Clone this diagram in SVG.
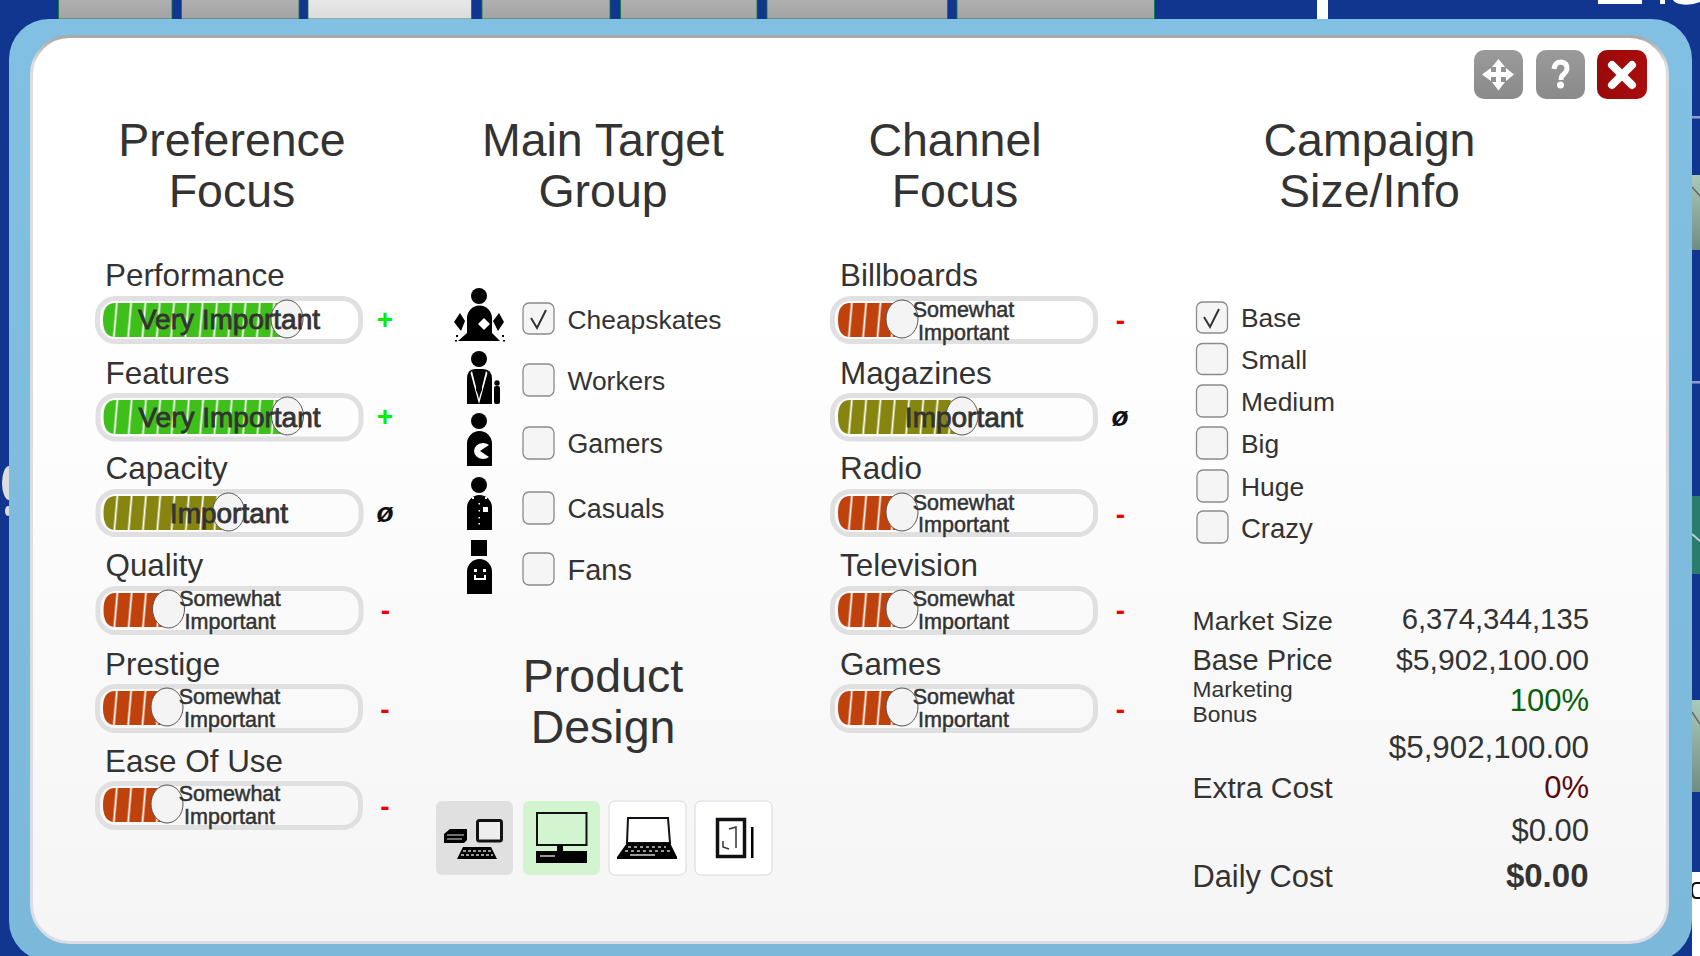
<svg xmlns="http://www.w3.org/2000/svg" width="1700" height="956" viewBox="0 0 1700 956">
<style>
text{font-family:"Liberation Sans",Arial,sans-serif;fill:#333}
.title{font-size:46.500px;text-anchor:middle}
.lab{font-size:31.400px}
.opt{font-size:26.400px}
.vi{font-size:28px;text-anchor:middle;stroke:#333;stroke-width:.8px}
.sw{font-size:21.500px;text-anchor:middle;stroke:#333;stroke-width:.5px}
.track{fill:none;stroke:#e0e0e0;stroke-width:5}
.knob{fill:#f4f4f4;stroke:#555;stroke-width:1}
.g{fill:#3fbf1a}.o{fill:#85850f}.r{fill:#bf410b}
.st{fill:url(#stripes)}
.sign{font-size:28px;font-weight:bold;text-anchor:middle}
text.plus{fill:#00f000}text.minus{fill:#f00000}
text.nil{font-size:28px;font-style:italic;fill:#111}
.box{fill:#f5f5f5;stroke:#8a8a8a;stroke-width:1.3}
.chk{fill:none;stroke:#333;stroke-width:2}
.val{text-anchor:end}
text.up{fill:#0a5f0a}text.down{fill:#5c0a0a}
.tab{fill:url(#tabG);stroke:#0a7a3a;stroke-width:.8}
.k{fill:#000}.w{fill:#fff}
.pb{stroke:#d8d8e0;stroke-width:1}
.btn{stroke:none}
</style>
<defs>
<pattern id="stripes" patternUnits="userSpaceOnUse" width="14.3" height="34" patternTransform="translate(108.15 320) skewX(-5)"><rect x="6.3" y="0" width="1.8" height="34" fill="#fff"/></pattern>
<linearGradient id="tabG" x1="0" y1="0" x2="0" y2="1"><stop offset="0" stop-color="#b0b0b0"/><stop offset="1" stop-color="#a4a4a4"/></linearGradient>
<linearGradient id="tabA" x1="0" y1="0" x2="0" y2="1"><stop offset="0" stop-color="#e8e8e8"/><stop offset="1" stop-color="#dcdcdc"/></linearGradient>
<linearGradient id="blue" x1="0" y1="0" x2="0" y2="1"><stop offset="0" stop-color="#82c0e3"/><stop offset="1" stop-color="#7bb8d9"/></linearGradient>
<linearGradient id="panel" x1="0" y1="0" x2="0" y2="1"><stop offset="0" stop-color="#fff"/><stop offset=".3" stop-color="#fff"/><stop offset="1" stop-color="#f5f5f5"/></linearGradient>
<linearGradient id="edge" x1="0" y1="0" x2="0" y2="1"><stop offset="0" stop-color="#a8a8a8"/><stop offset=".03" stop-color="#dcdcdc"/><stop offset="1" stop-color="#dcdce6"/></linearGradient>
<linearGradient id="gb" x1="0" y1="0" x2="0" y2="1"><stop offset="0" stop-color="#9a9a9a"/><stop offset="1" stop-color="#8a8a8a"/></linearGradient>
<linearGradient id="rb" x1="1" y1="0" x2="0" y2="0"><stop offset="0" stop-color="#ab0c0c"/><stop offset="1" stop-color="#990a0a"/></linearGradient>
<linearGradient id="sage" x1="0" y1="0" x2="0" y2="1"><stop offset="0" stop-color="#a9cabb"/><stop offset="1" stop-color="#6f8c80"/></linearGradient>
</defs>

<g id="background">
<rect width="1700" height="956" fill="#10368f"/>
<rect class="tab" x="58.5" y="-2" width="113.5" height="21"/>
<rect class="tab" x="181.5" y="-2" width="117.5" height="21"/>
<rect class="tab" x="308" y="-2" width="163.5" height="21" style="fill:url(#tabA)"/>
<rect class="tab" x="482" y="-2" width="128" height="21"/>
<rect class="tab" x="620.5" y="-2" width="136.5" height="21"/>
<rect class="tab" x="767" y="-2" width="180.5" height="21"/>
<rect class="tab" x="957" y="-2" width="197.5" height="21"/>
<rect x="1317" y="0" width="11" height="19" fill="#fff"/>
<path d="M1598 0H1642V4H1598ZM1660 0H1665V4H1660ZM1673 0H1700V2Q1690 6 1680 4Q1675 3 1673 0Z" fill="#fff"/>
<rect x="1692" y="116" width="8" height="2.5" fill="#8f9cd0"/>
<rect x="1692" y="175" width="8" height="75" fill="url(#sage)"/>
<path d="M1692 187L1700 196" stroke="#666" stroke-width="1.5"/>
<rect x="1692" y="381" width="8" height="2.5" fill="#8f9cd0"/>
<rect x="1692" y="496" width="8" height="78" fill="#2a7d6c"/>
<path d="M1692 534L1700 541" stroke="#bcd" stroke-width="2"/>
<rect x="1692" y="700" width="8" height="92" fill="url(#sage)"/>
<path d="M1692 712L1700 724" stroke="#666" stroke-width="1.5"/>
<rect x="1692" y="872" width="8" height="84" fill="#fff"/>
<path d="M1700 883H1696Q1692 883 1692 890Q1692 898 1696 898H1700" fill="none" stroke="#111" stroke-width="2"/>
<ellipse cx="9" cy="483" rx="7" ry="17" fill="#ddd"/>
<ellipse cx="8" cy="511" rx="3" ry="5" fill="#ddd"/>
<rect x="9" y="19" width="1683" height="942" rx="40" fill="url(#blue)"/>
<rect x="31.5" y="36.5" width="1636" height="906" rx="38" fill="url(#panel)" stroke="url(#edge)" stroke-width="3"/>
</g>

<g id="window-buttons">
<g id="btn-move"><rect class="btn" x="1474" y="50" width="49" height="49" rx="10" fill="url(#gb)"/>
<path class="w" d="M1498.5 59L1505 67H1501V72H1506V68L1514 74.500L1506 81V77H1501V82H1505L1498.5 90.500L1492 82H1496V77H1491V81L1482 74.500L1491 68V72H1496V67H1492Z"/></g>
<g id="btn-help"><rect class="btn" x="1536" y="50" width="49" height="49" rx="10" fill="url(#gb)"/>
<path d="M1554 69Q1555 62 1561 62Q1567.500 63 1567 69Q1566.500 72 1563 75Q1561 76 1561 80" fill="none" stroke="#fff" stroke-width="5"/><circle class="w" cx="1560.500" cy="85" r="3.500"/></g>
<g id="btn-close"><rect class="btn" x="1597" y="50" width="50" height="49" rx="10" fill="url(#rb)"/>
<path d="M1612 65L1632 85M1632 65L1612 85" stroke="#fff" stroke-width="8" stroke-linecap="round"/></g>
</g>

<g id="preference-focus">
<text class="title" x="232" y="156">Preference</text><text class="title" x="232" y="207">Focus</text>
<g id="pref-performance"><text class="lab" x="105" y="286">Performance</text>
<rect class="track" x="97.500" y="298.500" width="263" height="43" rx="18"/>
<path class="g" d="M115 303H287V337H115Q103 337 103 320Q103 303 115 303Z"/><path class="st" d="M115 303H287V337H115Q103 337 103 320Q103 303 115 303Z"/>
<ellipse class="knob" cx="287" cy="319" rx="16" ry="19"/><text class="vi" x="229" y="329">Very Important</text><text class="sign plus" x="385" y="329">+</text></g>
<g id="pref-features" transform="translate(.5 97)"><text class="lab" x="105" y="286.500">Features</text>
<rect class="track" x="97.500" y="298.500" width="263" height="43.500" rx="18"/>
<path class="g" d="M115 303H287V337H115Q103 337 103 320Q103 303 115 303Z"/><path class="st" d="M115 303H287V337H115Q103 337 103 320Q103 303 115 303Z"/>
<ellipse class="knob" cx="287" cy="319" rx="16" ry="19"/><text class="vi" x="229" y="330">Very Important</text><text class="sign plus" x="384.500" y="329">+</text></g>
<g id="pref-capacity" transform="translate(.5 193)"><text class="lab" x="105" y="286">Capacity</text>
<rect class="track" x="97.500" y="298.500" width="263" height="43" rx="18"/>
<path class="o" d="M115 303H228V337H115Q103 337 103 320Q103 303 115 303Z"/><path class="st" d="M115 303H228V337H115Q103 337 103 320Q103 303 115 303Z"/>
<ellipse class="knob" cx="228" cy="319" rx="16" ry="19"/><text class="vi" x="228.500" y="330">Important</text><text class="sign nil" x="384.500" y="329">ø</text></g>
<g id="pref-quality" transform="translate(.5 290)"><text class="lab" x="105" y="286">Quality</text>
<rect class="track" x="97.500" y="298.500" width="263" height="44" rx="18"/>
<path class="r" d="M115 303H168V337H115Q103 337 103 320Q103 303 115 303Z"/><path class="st" d="M115 303H168V337H115Q103 337 103 320Q103 303 115 303Z"/>
<ellipse class="knob" cx="168" cy="319" rx="16" ry="19"/><text class="sw" x="229.500" y="316">Somewhat</text><text class="sw" x="229.500" y="339">Important</text><text class="sign minus" x="385" y="330">-</text></g>
<g id="pref-prestige" transform="translate(0 388)"><text class="lab" x="105" y="287">Prestige</text>
<rect class="track" x="97.500" y="298.500" width="263" height="44" rx="18"/>
<path class="r" d="M115 303H167V337H115Q103 337 103 320Q103 303 115 303Z"/><path class="st" d="M115 303H167V337H115Q103 337 103 320Q103 303 115 303Z"/>
<ellipse class="knob" cx="167" cy="319" rx="16" ry="19"/><text class="sw" x="229.500" y="316">Somewhat</text><text class="sw" x="229.500" y="339">Important</text><text class="sign minus" x="385" y="331">-</text></g>
<g id="pref-ease" transform="translate(0 485)"><text class="lab" x="105" y="287">Ease Of Use</text>
<rect class="track" x="97.500" y="298.500" width="263" height="44" rx="18"/>
<path class="r" d="M115 303H167V337H115Q103 337 103 320Q103 303 115 303Z"/><path class="st" d="M115 303H167V337H115Q103 337 103 320Q103 303 115 303Z"/>
<ellipse class="knob" cx="167" cy="319" rx="16" ry="19"/><text class="sw" x="229.500" y="316">Somewhat</text><text class="sw" x="229.500" y="339">Important</text><text class="sign minus" x="385" y="331">-</text></g>
</g>

<g id="main-target-group">
<text class="title" x="603" y="156">Main Target</text><text class="title" x="603" y="207">Group</text>
<g id="tg-cheapskates"><circle class="k" cx="479" cy="296" r="8"/>
<path class="k" d="M467 333V318A12.500 12.500 0 0 1 492 318V333L500 341H458Z"/>
<path class="k" d="M460 313L465 321L461 331L454 322ZM499 313L504 322L498 331L493 321Z"/>
<path class="w" d="M484 318L490 324L484 330L478 324Z"/>
<path class="k" d="M456 335h2v2h-2zM502 335h2v2h-2zM455 340h2v1.500h-2zM503 340h2v1.500h-2z"/>
<rect class="box" x="523" y="303" width="31" height="31" rx="6"/><path class="chk" d="M531 318L537 328L546 310"/><text class="opt" x="567.500" y="328.500">Cheapskates</text></g>
<g id="tg-workers"><circle class="k" cx="479" cy="359" r="8"/>
<path class="k" d="M467 404V379Q467 369 475 369H483Q492 369 492 379V404Z"/>
<path class="w" d="M472 371L479 399L486 371L487.500 373L479 404L470.500 373Z"/><path class="k" d="M477 370H481L480 376L482 390L479 396L476 390L478 376Z"/>
<circle class="k" cx="497" cy="383" r="2.700"/><rect class="k" x="494" y="386" width="6" height="18" rx="2"/>
<rect class="box" x="523" y="364" width="31" height="32" rx="6"/><text class="opt" x="567.500" y="390">Workers</text></g>
<g id="tg-gamers"><circle class="k" cx="479" cy="421" r="8"/>
<path class="k" d="M467 466V443.500A12.500 12.500 0 0 1 492 443.500V466Z"/>
<path class="w" d="M489 445A9 8 0 1 0 489 457L480 451Z"/>
<rect class="box" x="523" y="427" width="31" height="32" rx="6"/><text class="opt" x="567.500" y="453" font-size="26.800" style="font-size:26.800px">Gamers</text></g>
<g id="tg-casuals"><circle class="k" cx="479" cy="485" r="8"/>
<path class="k" d="M467 530V507.500A12.500 12.500 0 0 1 492 507.500V530Z"/>
<path class="w" d="M472 497h2v2h-2zM485 497h2v2h-2zM478.500 503h1.500v1.500h-1.500zM478.500 510h1.500v1.500h-1.500zM478.500 517h1.500v1.500h-1.500zM478.500 523h1.500v1.500h-1.500zM483 507h5v5h-5z"/>
<rect class="box" x="523" y="492" width="31" height="32" rx="6"/><text class="opt" x="567.500" y="518" style="font-size:26.800px">Casuals</text></g>
<g id="tg-fans"><rect class="k" x="471" y="540" width="16" height="16"/>
<path class="k" d="M467 594V571.500A12.500 12.500 0 0 1 492 571.500V594Z"/>
<path class="w" d="M474 569h3v3h-3zM483 569h3v3h-3zM474 575h2v3h8v-3h2v5h-12z"/>
<rect class="box" x="523" y="553" width="31" height="32" rx="6"/><text class="opt" x="567.500" y="580" style="font-size:29px">Fans</text></g>
</g>

<g id="product-design">
<text class="title" x="603" y="692">Product</text><text class="title" x="603" y="743">Design</text>
<g id="pd-all"><rect x="436" y="801" width="77" height="74" rx="6" fill="#e0e0e0"/>
<rect x="477.500" y="820.500" width="24" height="20.500" rx="2" fill="#eee" stroke="#111" stroke-width="3"/>
<path class="k" d="M450 829H467V840L464 843H444V834Z"/><path d="M447 835H464M447 839H462" stroke="#ddd" stroke-width="1.200"/>
<path class="k" d="M463 847H491L497 859H457Z"/><path d="M463 851H491M461 855H493" stroke="#ccc" stroke-width="1.500" stroke-dasharray="3 2"/></g>
<g id="pd-desktop"><rect x="523" y="801" width="77" height="74" rx="6" fill="#d2f5d0"/>
<rect x="537" y="813" width="49.500" height="32" fill="none" stroke="#111" stroke-width="2"/>
<rect class="k" x="557" y="845" width="6" height="7"/><rect class="k" x="536" y="851" width="51" height="12"/>
<path d="M540 856H555" stroke="#ccc" stroke-width="1.500"/></g>
<g id="pd-laptop"><rect class="pb" x="609" y="801" width="77" height="74" rx="6" fill="#fff"/>
<path d="M628 818H668L670 843H627Z" fill="#fff" stroke="#111" stroke-width="2"/>
<path class="k" d="M627 843H670L677 857V859H617V857Z"/><path d="M628 847H666M625 851H670" stroke="#ccc" stroke-width="1.500" stroke-dasharray="3 3"/><path d="M630 855H655" stroke="#ccc" stroke-width="1.500"/></g>
<g id="pd-tablet"><rect class="pb" x="695" y="801" width="77" height="74" rx="6" fill="#fff"/>
<rect x="717.500" y="819.500" width="27" height="37" fill="#fff" stroke="#111" stroke-width="3.500"/>
<path d="M729 829L736 827V848M723 841V847L729 849" fill="none" stroke="#333" stroke-width="1.500"/>
<rect class="k" x="751" y="827" width="2.500" height="31"/></g>
</g>

<g id="channel-focus">
<text class="title" x="955" y="156">Channel</text><text class="title" x="955" y="207">Focus</text>
<g id="ch-billboards" transform="translate(735 0)"><text class="lab" x="105" y="286">Billboards</text>
<rect class="track" x="97.500" y="298.500" width="263" height="43" rx="18"/>
<path class="r" d="M115 303H167V337H115Q103 337 103 320Q103 303 115 303Z"/><path class="st" d="M115 303H167V337H115Q103 337 103 320Q103 303 115 303Z"/>
<ellipse class="knob" cx="167" cy="319" rx="16" ry="19"/><text class="sw" x="228.500" y="317">Somewhat</text><text class="sw" x="228.500" y="340">Important</text><text class="sign minus" x="385.500" y="330">-</text></g>
<g id="ch-magazines" transform="translate(735 97)"><text class="lab" x="105" y="286.500">Magazines</text>
<rect class="track" x="97.500" y="298.500" width="263" height="43.500" rx="18"/>
<path class="o" d="M115 303H227V337H115Q103 337 103 320Q103 303 115 303Z"/><path class="st" d="M115 303H227V337H115Q103 337 103 320Q103 303 115 303Z"/>
<ellipse class="knob" cx="227" cy="319" rx="16" ry="19"/><text class="vi" x="229" y="330">Important</text><text class="sign nil" x="385" y="329">ø</text></g>
<g id="ch-radio" transform="translate(735 193)"><text class="lab" x="105" y="286">Radio</text>
<rect class="track" x="97.500" y="298.500" width="263" height="43" rx="18"/>
<path class="r" d="M115 303H167V337H115Q103 337 103 320Q103 303 115 303Z"/><path class="st" d="M115 303H167V337H115Q103 337 103 320Q103 303 115 303Z"/>
<ellipse class="knob" cx="167" cy="319" rx="16" ry="19"/><text class="sw" x="228.500" y="316.500">Somewhat</text><text class="sw" x="228.500" y="339">Important</text><text class="sign minus" x="385.500" y="331">-</text></g>
<g id="ch-television" transform="translate(735 290)"><text class="lab" x="105" y="286">Television</text>
<rect class="track" x="97.500" y="298.500" width="263" height="44" rx="18"/>
<path class="r" d="M115 303H167V337H115Q103 337 103 320Q103 303 115 303Z"/><path class="st" d="M115 303H167V337H115Q103 337 103 320Q103 303 115 303Z"/>
<ellipse class="knob" cx="167" cy="319" rx="16" ry="19"/><text class="sw" x="228.500" y="316">Somewhat</text><text class="sw" x="228.500" y="339">Important</text><text class="sign minus" x="385.500" y="330">-</text></g>
<g id="ch-games" transform="translate(735 388)"><text class="lab" x="105" y="287">Games</text>
<rect class="track" x="97.500" y="298.500" width="263" height="44" rx="18"/>
<path class="r" d="M115 303H167V337H115Q103 337 103 320Q103 303 115 303Z"/><path class="st" d="M115 303H167V337H115Q103 337 103 320Q103 303 115 303Z"/>
<ellipse class="knob" cx="167" cy="319" rx="16" ry="19"/><text class="sw" x="228.500" y="316">Somewhat</text><text class="sw" x="228.500" y="339">Important</text><text class="sign minus" x="385.500" y="331">-</text></g>
</g>

<g id="campaign-size">
<text class="title" x="1369.500" y="156">Campaign</text><text class="title" x="1369.500" y="207">Size/Info</text>
<g id="size-base"><rect class="box" x="1196.500" y="302" width="31" height="31" rx="6"/><path class="chk" d="M1204 317L1210 327L1219 309"/><text class="opt" x="1241" y="327">Base</text></g>
<g id="size-small"><rect class="box" x="1196.500" y="343.500" width="31" height="31" rx="6"/><text class="opt" x="1241" y="369">Small</text></g>
<g id="size-medium"><rect class="box" x="1196.500" y="385" width="31" height="32" rx="6"/><text class="opt" x="1241" y="411">Medium</text></g>
<g id="size-big"><rect class="box" x="1196.500" y="427" width="31" height="32" rx="6"/><text class="opt" x="1241" y="453">Big</text></g>
<g id="size-huge"><rect class="box" x="1197" y="470" width="31" height="32" rx="6"/><text class="opt" x="1241" y="496">Huge</text></g>
<g id="size-crazy"><rect class="box" x="1197" y="511" width="31" height="32" rx="6"/><text class="opt" x="1241" y="538" style="font-size:27.500px">Crazy</text></g>
</g>

<g id="campaign-info">
<text x="1192.500" y="629.500" font-size="26.600">Market Size</text><text class="val" x="1589" y="629" font-size="29.300">6,374,344,135</text>
<text x="1192.500" y="670" font-size="29">Base Price</text><text class="val" x="1589" y="670" font-size="30.200">$5,902,100.00</text>
<text x="1192.500" y="697" font-size="22.800">Marketing</text><text x="1192.500" y="722" font-size="22.800">Bonus</text>
<text class="val up" x="1589" y="711" font-size="31">100%</text>
<text class="val" x="1589" y="758" font-size="31.300">$5,902,100.00</text>
<text x="1192.500" y="798" font-size="30">Extra Cost</text><text class="val down" x="1589" y="798" font-size="31">0%</text>
<text class="val" x="1589" y="841" font-size="31">$0.00</text>
<text x="1192.500" y="887" font-size="30.800">Daily Cost</text><text class="val" x="1588.500" y="886.500" font-size="33" font-weight="bold">$0.00</text>
</g>
</svg>
